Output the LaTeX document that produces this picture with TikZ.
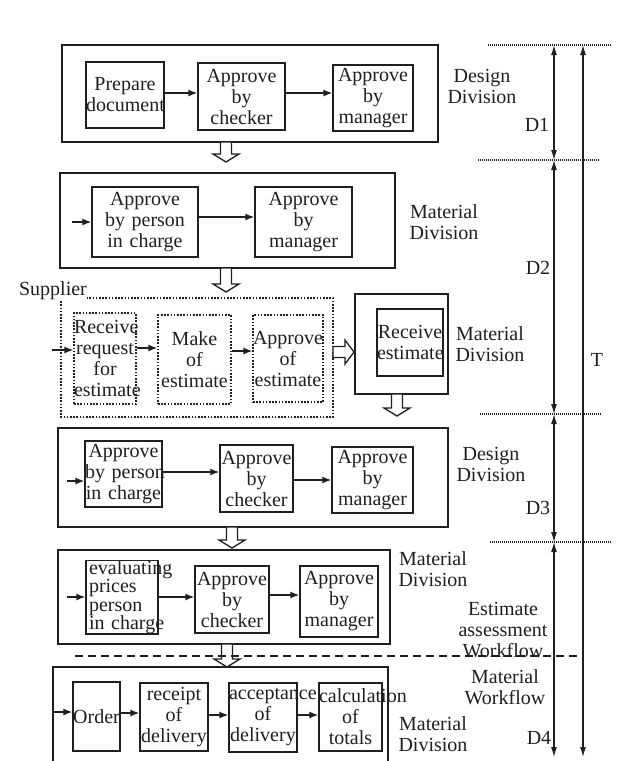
\documentclass[tikz,border=0pt]{standalone}
\usepackage{fontspec}
\setmainfont{Liberation Serif}
\usetikzlibrary{arrows.meta}
\hyphenpenalty=10000
\newcommand{\figfont}{\fontsize{20}{21}\selectfont}
\tikzset{every picture/.style={line width=1.3pt,color=black!88},
  frame/.style={draw,inner sep=0pt},
  task/.style={draw,inner sep=0pt,align=center,font=\figfont},
  suptask/.style={task,dash pattern=on 1.6pt off 1.6pt},
  lbl/.style={inner sep=0pt,align=center,font=\figfont},
  flow/.style={-{Latex[length=9pt,width=7pt]},line width=1.4pt},
  dim/.style={{Latex[length=10pt,width=6pt]}-{Latex[length=10pt,width=6pt]},line width=1.1pt},
  refline/.style={line width=1.1pt,dash pattern=on 1pt off 1pt}}
% hollow block arrows: x, top, tip  /  y, left, tip
\newcommand{\hollowdown}[3]{%
  \draw[fill=white] ({#1-5.5},#2) -- ({#1-5.5},{#3-8}) -- ({#1-13},{#3-8}) -- (#1,#3)
    -- ({#1+13},{#3-8}) -- ({#1+5.5},{#3-8}) -- ({#1+5.5},#2) -- cycle;}
\newcommand{\hollowright}[3]{%
  \draw[fill=white] (#2,{#1-5.5}) -- ({#3-9},{#1-5.5}) -- ({#3-9},{#1-12}) -- (#3,#1)
    -- ({#3-9},{#1+12}) -- ({#3-9},{#1+5.5}) -- (#2,{#1+5.5}) -- cycle;}

\begin{document}
\begin{tikzpicture}[x=1pt,y=-1pt]
    \useasboundingbox (0,0) rectangle (618,761);
    \clip (0,0) rectangle (618,761);

    % Design Division, first pass
    \node[frame,minimum width=376pt,minimum height=97pt] (dd1) at (250,93.5) {};
    \node[task,text width=78pt,minimum height=66pt] (prep) at (125,95) {Prepare\\document};
    \node[task,text width=87pt,minimum height=67pt] (chk1) at (241.5,96.5) {Approve\\by\\checker};
    \node[task,text width=80pt,minimum height=66pt] (mgr1) at (373,98) {Approve\\by\\manager};
    \draw[flow] (prep.east |- 0,93) -- (chk1.west |- 0,93);
    \draw[flow] (chk1.east |- 0,93) -- (mgr1.west |- 0,93);
    \node[lbl] (lbdd1) at (482,86) {Design\\Division};
    \hollowdown{226}{142}{162}

    % Material Division
    \node[frame,minimum width=335pt,minimum height=95pt] (md1) at (227.5,220.5) {};
    \node[task,text width=106pt,minimum height=70pt] (pic2) at (145,222) {Approve\\by~person\\in~charge};
    \node[task,text width=97pt,minimum height=70pt] (mgr2) at (303.5,222) {Approve\\by\\manager};
    \coordinate (in2) at (72,222);
    \draw[flow] (in2) -- (pic2.west |- in2);
    \draw[flow] (pic2.east |- 0,217) -- (mgr2.west |- 0,217);
    \node[lbl] (lbmd1) at (444,222) {Material\\Division};
    \hollowdown{226}{268}{292}

    % Supplier
    \draw[dash pattern=on 1.6pt off 1.6pt,line width=1.3pt] (61,298) rectangle (333,417);
    \node[lbl,fill=white,inner ysep=1pt] (lbsup) at (53,291) {Supplier};
    \node[suptask,text width=62pt,minimum height=91pt] (rcv) at (105,358.5) {Receive\\request\\for\\estimate};
    \node[suptask,text width=73pt,minimum height=89pt] (mk) at (194.5,359.5) {Make\\of\\estimate};
    \node[suptask,text width=70pt,minimum height=87pt] (apr) at (288,358.5) {Approve\\of\\estimate};
    \coordinate (in3) at (52,350);
    \draw[flow] (in3) -- (rcv.west |- in3);
    \draw[flow] (rcv.east |- 0,348) -- (mk.west |- 0,348);
    \draw[flow] (mk.east |- 0,351) -- (apr.west |- 0,351);
    \hollowright{352}{333}{354}

    % Material Division, receiving
    \node[frame,minimum width=93pt,minimum height=100pt] (md2) at (401.5,344) {};
    \node[task,text width=66pt,minimum height=67pt] (rest) at (410,342.5) {Receive\\estimate};
    \node[lbl] (lbmd2) at (490,344) {Material\\Division};
    \hollowdown{397}{394}{416}

    % Design Division, second pass
    \node[frame,minimum width=390pt,minimum height=99pt] (dd2) at (253,477.5) {};
    \node[task,text width=77pt,minimum height=66pt] (pic3) at (123.5,474) {Approve\\by~person\\in~charge};
    \node[task,text width=73pt,minimum height=67pt] (chk3) at (256.5,478.5) {Approve\\by\\checker};
    \node[task,text width=81pt,minimum height=66pt] (mgr3) at (372.5,480) {Approve\\by\\manager};
    \coordinate (in4) at (67,481);
    \draw[flow] (in4) -- (pic3.west |- in4);
    \draw[flow] (pic3.east |- 0,472) -- (chk3.west |- 0,472);
    \draw[flow] (chk3.east |- 0,480) -- (mgr3.west |- 0,480);
    \node[lbl] (lbdd2) at (491,464) {Design\\Division};
    \hollowdown{232}{527}{548}

    % Material Division, evaluating
    \node[frame,minimum width=332pt,minimum height=94pt] (md3) at (224,597) {};
    \node[task,align=left,inner xsep=3pt,text width=66pt,minimum height=70pt,
          font=\fontsize{20}{18.5}\selectfont] (eval) at (122,597) {evaluating\\prices\\person\\in~charge};
    \node[task,text width=74pt,minimum height=67pt] (chk4) at (232,599.5) {Approve\\by\\checker};
    \node[task,text width=78pt,minimum height=71pt] (mgr4) at (339,601.5) {Approve\\by\\manager};
    \coordinate (in5) at (67,597);
    \draw[flow] (in5) -- (eval.west |- in5);
    \draw[flow] (eval.east |- 0,597) -- (chk4.west |- 0,597);
    \draw[flow] (chk4.east |- 0,595) -- (mgr4.west |- 0,595);
    \node[lbl] (lbmd3) at (433,569) {Material\\Division};
    \node[lbl] (lbest) at (503,630) {Estimate\\assessment\\Workflow};
    \hollowdown{227}{644}{667}
    \draw[line width=1.3pt,dash pattern=on 8pt off 5pt] (75,656) -- (577,656);

    % Material Division, delivery
    \draw (53,790) -- (53,667) -- (388,667) -- (388,790);
    \node[task,text width=47pt,minimum height=69pt] (ord) at (96.5,716.5) {Order};
    \node[task,text width=68pt,minimum height=68pt] (rcpt) at (174,717) {receipt\\of\\delivery};
    \node[task,text width=68pt,minimum height=69pt] (acc) at (263,717.5) {acceptance\\of\\delivery};
    \node[task,text width=63pt,minimum height=68pt] (calc) at (350.5,717) {calculation\\of\\totals};
    \coordinate (in6) at (54,712);
    \draw[flow] (in6) -- (ord.west |- in6);
    \draw[flow] (ord.east |- 0,713) -- (rcpt.west |- 0,713);
    \draw[flow] (rcpt.east |- 0,715) -- (acc.west |- 0,715);
    \draw[flow] (acc.east |- 0,715) -- (calc.west |- 0,715);
    \node[lbl] (lbmat) at (505,687) {Material\\Workflow};
    \node[lbl] (lbmd4) at (433,734) {Material\\Division};

    % Time spans
    \draw[refline] (488,45) -- (612,45);
    \draw[refline] (478,160) -- (600,160);
    \draw[refline] (480,414) -- (602,414);
    \draw[refline] (490,542) -- (612,542);
    \coordinate (m0) at (554,45);
    \coordinate (m1) at (554,160);
    \coordinate (m2) at (554,414);
    \coordinate (m3) at (554,542);
    \coordinate (m4) at (554,757);
    \coordinate (t0) at (583,45);
    \coordinate (t1) at (583,757);
    \draw[dim] (m0) -- (m1);
    \draw[dim] (m1) -- (m2);
    \draw[dim] (m2) -- (m3);
    \draw[dim] (m3) -- (m4);
    \draw[dim] (t0) -- (t1);
    \node[lbl] (lbd1) at (537,125) {D1};
    \node[lbl] (lbd2) at (538,268) {D2};
    \node[lbl] (lbd3) at (538,508) {D3};
    \node[lbl] (lbd4) at (539,738) {D4};
    \node[lbl] (lbt) at (597,360) {T};
\end{tikzpicture}
\end{document}
